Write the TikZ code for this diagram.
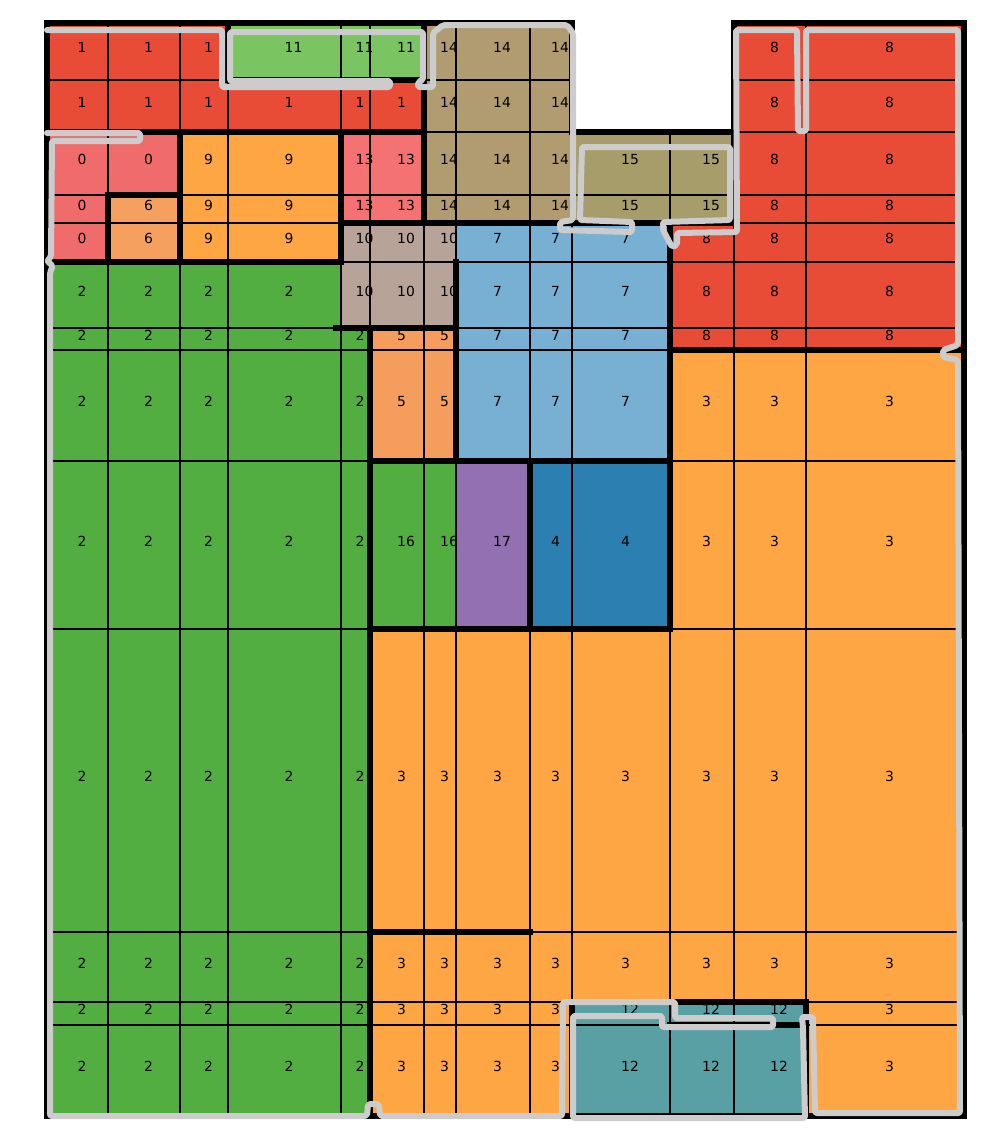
\documentclass[tikz,border=0pt]{standalone}
\usepackage{fontspec}
\setmainfont{DejaVu Sans}
\usepackage{xcolor}
\usetikzlibrary{calc}
\definecolor{rm0}{HTML}{F06B6B}
\definecolor{rm1}{HTML}{E94C36}
\definecolor{rm2}{HTML}{52AE41}
\definecolor{rm3}{HTML}{FEA544}
\definecolor{rm4}{HTML}{2C7FB1}
\definecolor{rm5}{HTML}{F59D5C}
\definecolor{rm6}{HTML}{F5A05E}
\definecolor{rm7}{HTML}{78B0D4}
\definecolor{rm8}{HTML}{E94C36}
\definecolor{rm9}{HTML}{FEA544}
\definecolor{rm10}{HTML}{B8A398}
\definecolor{rm11}{HTML}{7BC462}
\definecolor{rm12}{HTML}{59A0A5}
\definecolor{rm13}{HTML}{F47272}
\definecolor{rm14}{HTML}{B09C70}
\definecolor{rm15}{HTML}{A69D6A}
\definecolor{rm16}{HTML}{52AE41}
\definecolor{rm17}{HTML}{9370B2}
\definecolor{traceGray}{HTML}{CCCCCC}
\tikzset{
  cellBox/.style={draw=black, line width=1.7pt},
  wallLine/.style={draw=black, line width=6.8pt, line cap=rect},
  outerWall/.style={draw=black, line width=5.5pt, line join=miter},
  traceLine/.style={draw=traceGray, line width=6pt, line join=round, line cap=round, rounded corners=2pt},
  cellLabel/.style={anchor=base west, inner sep=0pt, yshift=-1pt, font=\fontsize{13.9}{16}\selectfont}
}
\newcommand{\colXs}{{47,108,180,228,341,370,424,456,530,572,670,734,806,964}}
\newcommand{\rowYs}{{23,80,132,195,223,262,328,350,461,629,932,1002,1025,1116}}
\newcommand{\planRows}{%
  0/{1,1,1,11,11,11,14,14,14,-1,-1,8,8},
  1/{1,1,1,1,1,1,14,14,14,-1,-1,8,8},
  2/{0,0,9,9,13,13,14,14,14,15,15,8,8},
  3/{0,6,9,9,13,13,14,14,14,15,15,8,8},
  4/{0,6,9,9,10,10,10,7,7,7,8,8,8},
  5/{2,2,2,2,10,10,10,7,7,7,8,8,8},
  6/{2,2,2,2,2,5,5,7,7,7,8,8,8},
  7/{2,2,2,2,2,5,5,7,7,7,3,3,3},
  8/{2,2,2,2,2,16,16,17,4,4,3,3,3},
  9/{2,2,2,2,2,3,3,3,3,3,3,3,3},
  10/{2,2,2,2,2,3,3,3,3,3,3,3,3},
  11/{2,2,2,2,2,3,3,3,3,12,12,12,3},
  12/{2,2,2,2,2,3,3,3,3,12,12,12,3}}
\begin{document}
\begin{tikzpicture}[x=1pt, y=-1pt]
  \useasboundingbox (0,0) rectangle (1007,1144);

  \foreach \rr/\labs in \planRows {
    \foreach \lab [count=\cc from 0] in \labs {
      \ifnum\lab<0 \else
        \pgfmathsetmacro\xa{\colXs[\cc]}
        \pgfmathsetmacro\xb{\colXs[\cc+1]}
        \pgfmathsetmacro\ya{\rowYs[\rr]}
        \pgfmathsetmacro\yb{\rowYs[\rr+1]}
        \draw[cellBox, fill=rm\lab] (\xa,\ya) rectangle (\xb,\yb);
      \fi
    }
  }
  \foreach \rr/\labs in \planRows {
    \foreach \lab [count=\cc from 0] in \labs {
      \ifnum\lab<0 \else
        \pgfmathsetmacro\xa{\colXs[\cc]}
        \pgfmathsetmacro\xb{\colXs[\cc+1]}
        \pgfmathsetmacro\ya{\rowYs[\rr]}
        \pgfmathsetmacro\yb{\rowYs[\rr+1]}
        \node[cellLabel] (cell-\rr-\cc) at ({(\xa+\xb)/2},{(\ya+\yb)/2}) {\lab};
      \fi
    }
  }

  \draw[outerWall] (47,23) -- (572,23) -- (572,132) -- (734,132) -- (734,23) -- (964,23) -- (964,1116) -- (47,1116) -- cycle;
  \draw[wallLine] (228,23) -- (228,80) -- (424,80);
  \draw[wallLine] (424,23) -- (424,223);
  \draw[wallLine] (47,132) -- (424,132);
  \draw[wallLine] (180,132) -- (180,262);
  \draw[wallLine] (108,262) -- (108,195) -- (180,195);
  \draw[wallLine] (47,262) -- (341,262);
  \draw[wallLine] (341,132) -- (341,262);
  \draw[wallLine] (341,223) -- (734,223);
  \draw[wallLine] (734,132) -- (734,223);
  \draw[wallLine] (336,328) -- (456,328);
  \draw[wallLine] (456,262) -- (456,461);
  \draw[wallLine] (370,328) -- (370,1116);
  \draw[wallLine] (370,461) -- (670,461);
  \draw[wallLine] (670,223) -- (670,629);
  \draw[wallLine] (670,350) -- (964,350);
  \draw[wallLine] (370,629) -- (670,629);
  \draw[wallLine] (530,461) -- (530,629);
  \draw[wallLine] (370,932) -- (530,932);
  \draw[wallLine] (572,1116) -- (572,1002) -- (806,1002) -- (806,1116);
  \draw[wallLine] (670,1025) -- (806,1025);

  \draw[traceLine] (47,133) -- (140,133) -- (140,141) -- (52,141) -- (51,257) -- (47,261) -- (53,266)
    -- (50,272) -- (50,1116) -- (367,1116) -- (368,1104) -- (379,1104) -- (380,1116) -- (562,1116)
    -- (563,1002) -- (675,1002) -- (675,1018) -- (773,1018) -- (773,1027) -- (662,1027) -- (662,1016)
    -- (573,1016) -- (573,1118) -- (805,1118) -- (803,1028) -- (802,1017) -- (813,1017) -- (815,1113)
    -- (960,1113) -- (958,360) -- (943,357) -- (943,350) -- (958,345) -- (958,30) -- (806,30)
    -- (806,131) -- (798,131) -- (797,30) -- (736,30) -- (737,232) -- (677,233) -- (677,245)
    -- (672,247) -- (663,230) -- (663,222) -- (730,220) -- (730,147) -- (582,147) -- (580,220)
    -- (632,222) -- (632,232) -- (560,230) -- (560,222) -- (573,220) -- (573,33) -- (567,25)
    -- (443,25) -- (433,33) -- (433,87) -- (418,87) -- (418,82) -- (423,80) -- (423,32)
    -- (230,32) -- (230,81) -- (390,81) -- (390,87) -- (222,87) -- (222,30) -- (47,30);
\end{tikzpicture}
\end{document}
